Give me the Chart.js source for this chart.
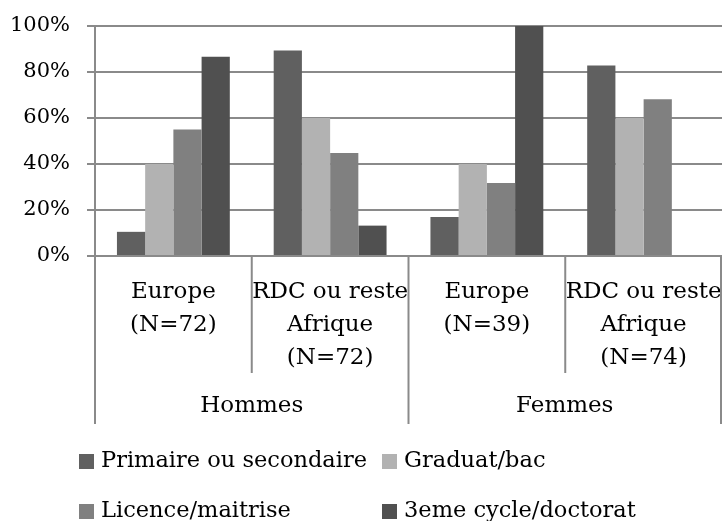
<!DOCTYPE html>
<html>
<head>
<meta charset="utf-8">
<script src="https://cdn.jsdelivr.net/npm/chart.js@4"></script>
<style>
  body { margin: 0; background: #fff; }
  #wrap { width: 722px; height: 521px; }
</style>
</head>
<body>
<div id="wrap"><canvas id="chart" width="722" height="521"></canvas></div>
<script>
// chart data
const categories = [
  ['Europe', '(N=72)'],
  ['RDC ou reste', 'Afrique', '(N=72)'],
  ['Europe', '(N=39)'],
  ['RDC ou reste', 'Afrique', '(N=74)']
];
const groups = ['Hommes', 'Femmes'];
const seriesNames = ['Primaire ou secondaire', 'Graduat/bac', 'Licence/maitrise', '3eme cycle/doctorat'];
const primaire = [10.5, 89.4, 17, 82.8];
const graduat = [40, 60, 40, 60];
const licence = [55, 44.8, 31.7, 68.1];
const doctorat = [86.6, 13.2, 100, 0];
const yTickValues = [0, 20, 40, 60, 80, 100];

const colors = ['#606060', '#b2b2b2', '#808080', '#505050'];
const lineColor = '#8a8a8a';
const fontFamily = "'DejaVu Serif', serif";

Chart.defaults.font.family = fontFamily;
Chart.defaults.color = '#000';

// Draw the group separators, group labels and a 2x2 legend
const decorPlugin = {
  id: 'decor',
  afterDraw: function (chart) {
    const ctx = chart.ctx;
    const x = chart.scales.x;
    const area = chart.chartArea;
    const n = categories.length;

    const edges = [];
    for (let i = 0; i <= n; i++) {
      if (i === 0) edges.push(area.left);
      else if (i === n) edges.push(area.right - 1);
      else edges.push((x.getPixelForValue(i - 1) + x.getPixelForValue(i)) / 2);
    }

    ctx.save();
    ctx.strokeStyle = lineColor;
    ctx.lineWidth = 2;
    edges.forEach(function (px, i) {
      const len = (i % 2 === 0) ? 168 : 117;
      ctx.beginPath();
      ctx.moveTo(px, area.bottom);
      ctx.lineTo(px, area.bottom + len);
      ctx.stroke();
    });

    // group labels
    ctx.fillStyle = '#000';
    ctx.font = '23px ' + fontFamily;
    ctx.textAlign = 'center';
    ctx.textBaseline = 'middle';
    groups.forEach(function (g, i) {
      const cx = (edges[i * 2] + edges[i * 2 + 2]) / 2;
      ctx.fillText(g, cx, area.bottom + 150);
    });

    // legend
    ctx.font = '22.5px ' + fontFamily;
    ctx.textAlign = 'left';
    const colX = [79, 382];
    const rowY = [461, 511];
    seriesNames.forEach(function (name, i) {
      const bx = colX[i % 2];
      const by = rowY[Math.floor(i / 2)];
      ctx.fillStyle = colors[i];
      ctx.fillRect(bx, by - 7, 15, 15);
      ctx.fillStyle = '#000';
      ctx.fillText(name, bx + 22, by);
    });
    ctx.restore();
  }
};

const seriesData = [primaire, graduat, licence, doctorat];

new Chart(document.getElementById('chart'), {
  type: 'bar',
  data: {
    labels: categories,
    datasets: seriesNames.map(function (name, i) {
      return {
        label: name,
        data: seriesData[i],
        backgroundColor: colors[i],
        borderWidth: 0,
        categoryPercentage: 0.72,
        barPercentage: 1
      };
    })
  },
  options: {
    responsive: false,
    animation: false,
    layout: {
      padding: { top: 26, left: 12, right: 0, bottom: 134 }
    },
    plugins: {
      legend: { display: false },
      tooltip: { enabled: false }
    },
    scales: {
      x: {
        grid: { display: false },
        border: { display: true, color: lineColor, width: 2 },
        ticks: {
          padding: 12,
          font: { size: 23, lineHeight: 1.435 },
          maxRotation: 0,
          autoSkip: false
        },
        afterFit: function (scale) {
          scale.paddingLeft = 0;
          scale.paddingRight = 0;
        }
      },
      y: {
        min: 0,
        max: 100,
        afterBuildTicks: function (scale) {
          scale.ticks = yTickValues.map(function (v) { return { value: v }; });
        },
        afterFit: function (scale) {
          scale.width = 83;
          scale.paddingTop = 0;
          scale.paddingBottom = 0;
        },
        grid: { color: lineColor, lineWidth: 2, tickLength: 8 },
        border: { display: true, color: lineColor, width: 2 },
        ticks: {
          padding: 17,
          font: { size: 21 },
          callback: function (value) { return value + '%'; }
        }
      }
    }
  },
  plugins: [decorPlugin]
});
</script>
</body>
</html>
